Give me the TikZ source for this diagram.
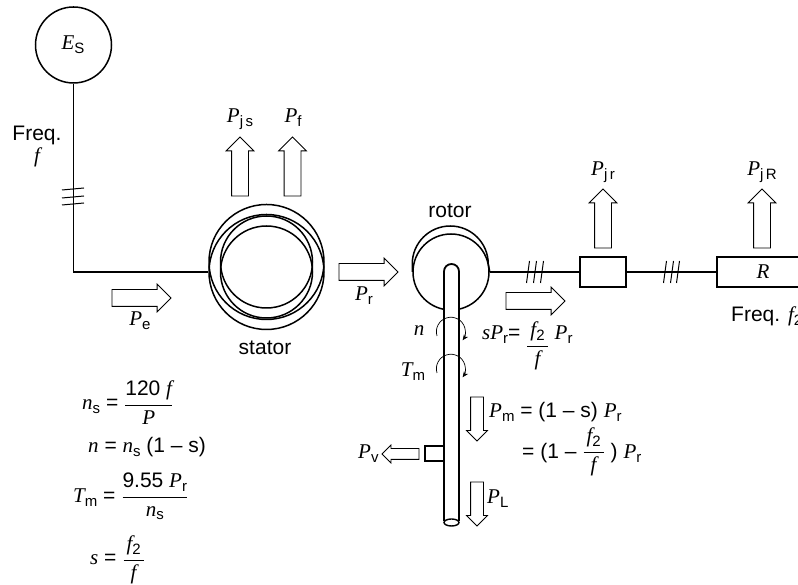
\documentclass[tikz,border=0pt]{standalone}
\usepackage{fontspec}
\setmainfont{Liberation Sans}
\newfontfamily\tmsfont{Liberation Serif}
\usetikzlibrary{shapes.arrows, arrows.meta, positioning}

\newcommand{\itv}[1]{{\tmsfont\itshape #1}}
\newcommand{\subt}[1]{\raisebox{-3.5pt}{\fontsize{15}{15}\selectfont #1}}
\newcommand{\fr}[3][0pt]{\raisebox{#1}{$\displaystyle\frac{\mbox{#2}}{\mbox{#3}}$}}
\newcommand{\pad}[1]{\hspace{3pt}#1\hspace{3pt}}

\begin{document}
\begin{tikzpicture}[
  x=1pt, y=1pt,
  txt/.style={font=\fontsize{21}{25}\selectfont, inner sep=0pt, anchor=base},
  eqn/.style={txt, anchor=base west},
  ring/.style={circle, draw, line width=1.5pt, inner sep=0pt, minimum size=#1},
  boxr/.style={rectangle, draw, line width=1.8pt, inner sep=0pt, fill=white},
  wire/.style={line width=1.4pt},
  tick/.style={line width=1pt},
  spin/.style={line width=.7pt, -{Stealth[length=6pt, width=5pt]}},
  flow/.style={single arrow, draw, line width=.8pt, fill=white, anchor=tail,
               inner sep=8pt, outer sep=0pt, minimum height=59pt,
               single arrow head extend=5.5pt, shape border rotate=#1},
  thin flow/.style={flow=#1, inner sep=6pt, minimum height=44pt,
               single arrow head extend=4pt}
]
\clip (0,0) rectangle (798,585);

% source and stator
\node[ring=76pt] (source) at (73.5,540) {};
\node[ring=115pt] (statorA) at (266.5,323) {};
\node[ring=115pt] (statorB) at (266.5,313) {};
\node[ring=92pt] (statorC) at (266.5,323) {};
\node[ring=92pt] (statorD) at (266.5,313) {};
\draw[wire] (source.south) |- (statorB.west);
\foreach \ty in {395,387,380}
  \draw[tick] (62,\ty) -- (84,\ty+2);

% rotor and load
\node[ring=76pt] (rotor) at (451,313) {};
\draw[line width=1.5pt] (rotor.west) -- ++(0,8) arc[start angle=180, end angle=0, radius=38pt] -- (rotor.east);
\node[boxr, minimum width=46pt, minimum height=30pt] (slip) at (603,313) {};
\node[boxr, minimum width=92pt, minimum height=30pt, font=\fontsize{21}{25}\selectfont] (load) at (763,313) {\itv{R}};
\draw[wire] (rotor.east) -- (slip.west);
\draw[wire] (slip.east) -- (load.west);
\foreach \tx in {528,535,542,665,672,678}
  \draw[tick] (\tx-1.5,302) -- (\tx+1.5,324);

% shaft
\node[boxr, minimum width=19pt, minimum height=15pt] (key) at (434.5,131.5) {};
\draw[line width=1.8pt, fill=white] (444,64) -- (444,313.5) arc[start angle=180, end angle=0, radius=7.5pt] -- (459,64);
\draw[line width=1.4pt, fill=white] (451.5,62.5) ellipse[x radius=7.5pt, y radius=3.5pt];
\foreach \sy in {249,212}
  \draw[spin] (437,\sy) arc[start angle=197, end angle=-36, radius=14.5pt];

% power flows
\node[flow=90] (pjs) at (240,389) {};
\node[flow=90] (pf) at (292.5,389) {};
\node[flow=0] (pe) at (112,287) {};
\node[flow=0] (pr) at (339,313) {};
\node[flow=0] (spr) at (506,284) {};
\node[flow=90] (pjr) at (603,337) {};
\node[flow=90] (pjrr) at (762,337) {};
\node[thin flow=270] (pm) at (477,188) {};
\node[thin flow=270] (pl) at (477,103) {};
\node[thin flow=180, minimum height=37pt, inner sep=5pt, single arrow head extend=3.5pt] (pv) at (419,131) {};

% labels
\node[txt] (es) at (73,535) {\itv{E}\subt{S}};
\node[txt] (freq) at (37,444) {Freq.};
\node[txt] (freqf) at (37,422) {\itv{f}};
\node[txt] (lpjs) at (240,462) {\itv{P}\subt{j\,s}};
\node[txt] (lpf) at (293,462) {\itv{P}\subt{f}};
\node[txt] (lpe) at (140,259) {\itv{P}\subt{e}};
\node[txt] (lpr) at (364,284) {\itv{P}\subt{r}};
\node[txt] (lrotor) at (450,367) {rotor};
\node[txt] (lstator) at (265,230) {stator};
\node[txt] (ln) at (419,249) {\itv{n}};
\node[txt] (ltm) at (413,208) {\itv{T}\subt{m}};
\node[txt] (lpjr) at (603,409) {\itv{P}\subt{j\,r}};
\node[txt] (lpjrr) at (762,409) {\itv{P}\subt{j\,R}};
\node[eqn] (lfreq) at (731,263) {Freq. \itv{f}\subt{2}};
\node[eqn] (lpv) at (358,126) {\itv{P}\subt{v}};
\node[eqn] (lpl) at (487,81) {\itv{P}\subt{L}};
\node[eqn] (lspr) at (482,245) {\itv{sP}\subt{r}= \fr[-11pt]{\pad{\itv{f}\subt{2}}}{\itv{f}} \itv{P}\subt{r}};
\node[eqn] (lpm) at (489,167) {\itv{P}\subt{m} = (1 – s) \itv{P}\subt{r}};
\node[eqn] (lpm2) at (522,126) {= (1 – \fr[2pt]{\pad{\itv{f}\subt{2}}}{\itv{f}} ) \itv{P}\subt{r}};

% equations
\node[eqn] (eqns) at (82,175) {\itv{n}\subt{s} = \fr{120 \itv{f}}{\itv{P}}};
\node[eqn] (eqn) at (88,132) {\itv{n} = \itv{n}\subt{s} (1 – s)};
\node[eqn] (eqtm) at (73,82) {\itv{T}\subt{m} = \fr[1pt]{9.55 \itv{P}\subt{r}}{\itv{n}\subt{s}}};
\node[eqn] (eqs) at (90,20) {\itv{s} = \fr{\pad{\itv{f}\subt{2}}}{\itv{f}}};

\end{tikzpicture}
\end{document}
